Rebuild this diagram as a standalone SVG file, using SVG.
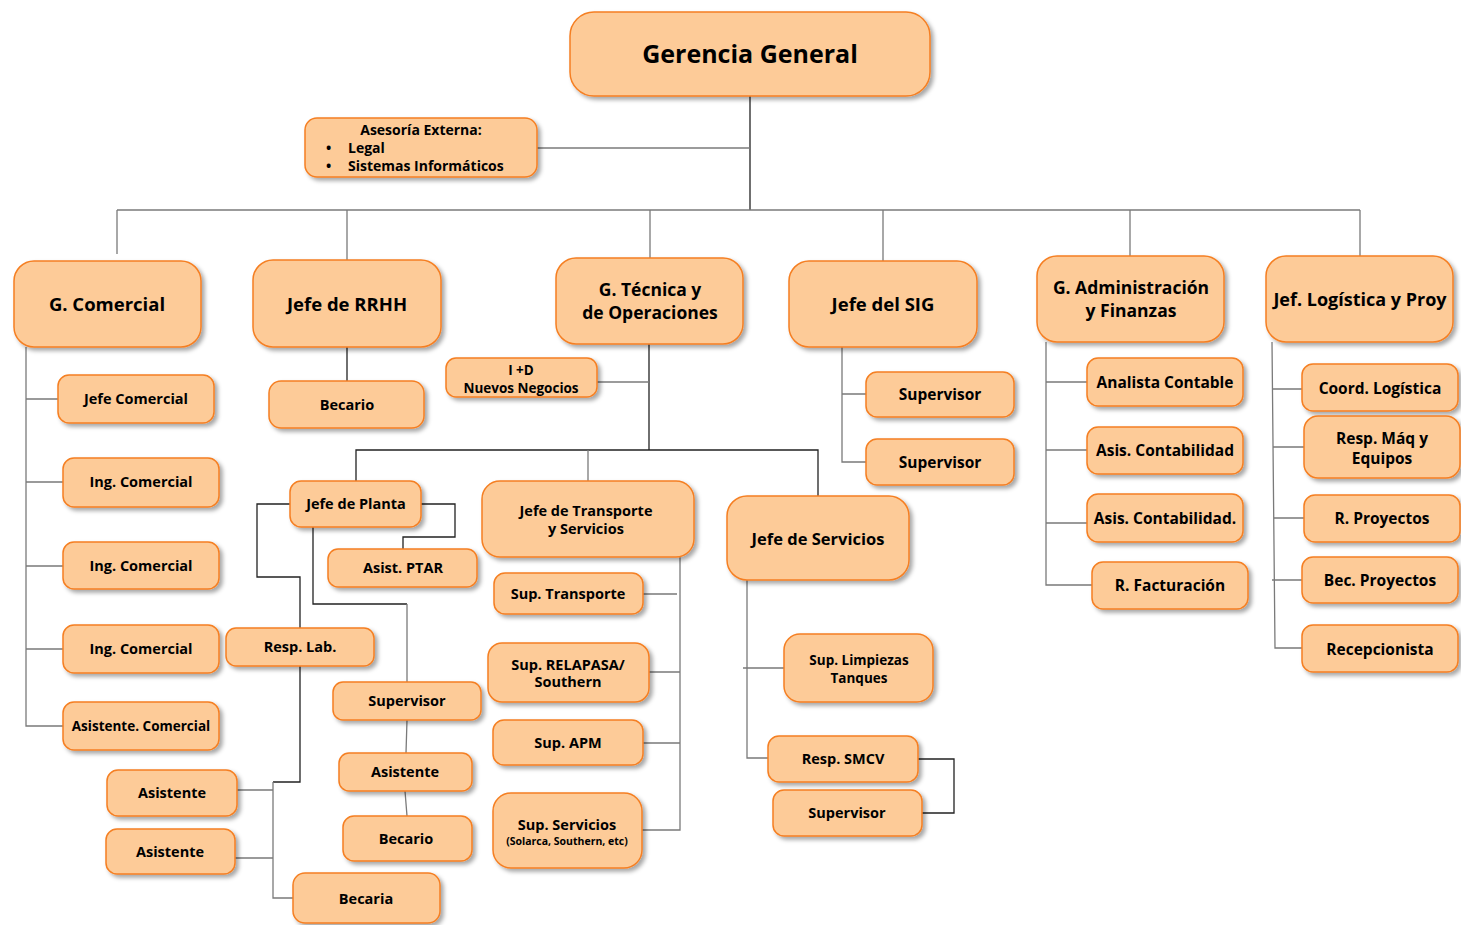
<svg xmlns="http://www.w3.org/2000/svg" width="1461" height="925" viewBox="0 0 1461 925">
  <defs>
    <filter id="shadow" x="-10%" y="-10%" width="130%" height="140%">
      <feDropShadow dx="3" dy="3" stdDeviation="2" flood-color="#000" flood-opacity="0.35"/>
    </filter>
    <style>
      .box { fill: #FDCB98; stroke: #F57F22; stroke-width: 1.5; filter: url(#shadow); }
      text { font-family: "Open Sans", "Noto Sans", "Liberation Sans", sans-serif; font-weight: 700; fill: #000; text-anchor: middle; }
      .t1 { font-size: 25px; }
      .t2 { font-size: 18.5px; }
      .t2b { font-size: 17.5px; }
      .t3 { font-size: 15.5px; }
      .t4 { font-size: 14.5px; }
      .t5 { font-size: 13.5px; }
      .dark { fill: none; stroke: #222; stroke-width: 1.3; }
      .grey { fill: none; stroke: #7a7a7a; stroke-width: 1.3; }
    </style>
  </defs>
  <rect width="1461" height="925" fill="#fff"/>

  <!-- connectors -->
  <g id="connectors">
    <path class="dark" d="M750,96 V210"/>
    <path class="grey" d="M537,148 H750"/>
    <path class="grey" d="M117,210 H1360"/>
    <path class="grey" d="M117,210 V254 M347,210 V260 M650,210 V258 M883,210 V261 M1130,210 V256 M1360,210 V256"/>
    <!-- comercial -->
    <path class="grey" d="M26,347 V726 H63 M26,399 H58 M26,482 H63 M26,566 H63 M26,649 H63"/>
    <!-- rrhh -->
    <path class="dark" d="M347,347 V381"/>
    <!-- tecnica -->
    <path class="dark" d="M649,344 V450"/>
    <path class="grey" d="M597,382 H649"/>
    <path class="dark" d="M356,481 V450 H818 V496"/>
    <path class="grey" d="M588,450 V481"/>
    <!-- planta -->
    <path class="dark" d="M421,504 H455 V537 H403 V549"/>
    <path class="dark" d="M290,504 H257 V577 H300 V628"/>
    <path class="dark" d="M300,666 V782 H273"/>
    <path class="grey" d="M273,782 V898 H293 M237,790 H273 M235,858 H273"/>
    <path class="dark" d="M313,527 V604 H407"/>
    <path class="grey" d="M407,604 V682 M407,720 L406,753 M405,791 L407,816"/>
    <!-- transporte -->
    <path class="grey" d="M680,557 V830 H642 M643,594 H677 M649,672 H680 M643,743 H680"/>
    <!-- servicios -->
    <path class="grey" d="M747,580 V758 H768 M743,668 H784"/>
    <path class="dark" d="M918,759 H954 V813 H922"/>
    <!-- sig -->
    <path class="grey" d="M842,342 V462 H866 M842,394 H866"/>
    <!-- administracion -->
    <path class="grey" d="M1046,342 V585 H1092 M1046,382 H1087 M1046,450 H1087 M1046,523 H1087"/>
    <!-- logistica -->
    <path class="grey" d="M1272,342 L1275,648 H1302 M1273,389 H1302 M1273,447 H1304 M1274,518 H1304 M1272,580 H1302"/>
  </g>

  <g id="gerencia-general"><rect class="box" x="570" y="12" width="360" height="84" rx="24"/><text class="t1" x="750" y="63">Gerencia General</text></g>

  <g id="asesoria-externa">
    <rect class="box" x="305" y="118" width="232" height="59" rx="12"/>
    <text x="421" y="135" style="font-size:14px">Asesoría Externa:</text>
    <text x="326" y="153" style="font-size:14px;text-anchor:start">•</text>
    <text x="348" y="153" style="font-size:14px;text-anchor:start">Legal</text>
    <text x="326" y="171" style="font-size:14px;text-anchor:start">•</text>
    <text x="348" y="171" style="font-size:14px;text-anchor:start">Sistemas Informáticos</text>
  </g>

  <!-- comercial -->
  <g id="g-comercial"><rect class="box" x="14" y="261" width="187" height="86" rx="20"/><text class="t2" x="107" y="311">G. Comercial</text></g>
  <g id="jefe-comercial"><rect class="box" x="58" y="375" width="156" height="48" rx="11"/><text class="t4" x="136" y="404">Jefe Comercial</text></g>
  <g id="ing-comercial-1"><rect class="box" x="63" y="458" width="156" height="49" rx="11"/><text class="t4" x="141" y="487">Ing. Comercial</text></g>
  <g id="ing-comercial-2"><rect class="box" x="63" y="542" width="156" height="47" rx="11"/><text class="t4" x="141" y="571">Ing. Comercial</text></g>
  <g id="ing-comercial-3"><rect class="box" x="63" y="625" width="156" height="48" rx="11"/><text class="t4" x="141" y="654">Ing. Comercial</text></g>
  <g id="asistente-comercial"><rect class="box" x="63" y="702" width="156" height="48" rx="11"/><text class="t5" x="141" y="731">Asistente. Comercial</text></g>

  <!-- rrhh -->
  <g id="jefe-rrhh"><rect class="box" x="253" y="260" width="188" height="87" rx="20"/><text class="t2" x="347" y="311">Jefe de RRHH</text></g>
  <g id="becario-rrhh"><rect class="box" x="269" y="381" width="155" height="47" rx="12"/><text class="t4" x="347" y="410">Becario</text></g>

  <!-- tecnica y operaciones -->
  <g id="g-tecnica"><rect class="box" x="556" y="258" width="187" height="86" rx="20"/><text class="t2b" x="650" y="296">G. Técnica y</text><text class="t2b" x="650" y="319">de Operaciones</text></g>
  <g id="i-d"><rect class="box" x="446" y="358" width="151" height="39" rx="10"/><text class="t5" x="521" y="375">I +D</text><text class="t5" x="521" y="393">Nuevos Negocios</text></g>

  <g id="jefe-planta"><rect class="box" x="290" y="481" width="131" height="46" rx="11"/><text class="t4" x="356" y="509">Jefe de Planta</text></g>
  <g id="asist-ptar"><rect class="box" x="328" y="549" width="149" height="38" rx="10"/><text class="t4" x="403" y="573">Asist. PTAR</text></g>
  <g id="resp-lab"><rect class="box" x="226" y="628" width="148" height="38" rx="10"/><text class="t4" x="300" y="652">Resp. Lab.</text></g>
  <g id="supervisor-planta"><rect class="box" x="333" y="682" width="148" height="38" rx="10"/><text class="t4" x="407" y="706">Supervisor</text></g>
  <g id="asistente-planta"><rect class="box" x="339" y="753" width="133" height="38" rx="10"/><text class="t4" x="405" y="777">Asistente</text></g>
  <g id="becario-planta"><rect class="box" x="343" y="816" width="129" height="45" rx="11"/><text class="t4" x="406" y="844">Becario</text></g>
  <g id="becaria"><rect class="box" x="293" y="873" width="147" height="50" rx="12"/><text class="t4" x="366" y="904">Becaria</text></g>
  <g id="asistente-1"><rect class="box" x="107" y="770" width="130" height="46" rx="11"/><text class="t4" x="172" y="798">Asistente</text></g>
  <g id="asistente-2"><rect class="box" x="106" y="829" width="129" height="45" rx="11"/><text class="t4" x="170" y="857">Asistente</text></g>

  <g id="jefe-transporte"><rect class="box" x="482" y="481" width="212" height="76" rx="18"/><text class="t4" x="586" y="516">Jefe de Transporte</text><text class="t4" x="586" y="534">y Servicios</text></g>
  <g id="sup-transporte"><rect class="box" x="494" y="573" width="149" height="41" rx="11"/><text class="t4" x="568" y="599">Sup. Transporte</text></g>
  <g id="sup-relapasa"><rect class="box" x="488" y="643" width="161" height="59" rx="14"/><text class="t4" x="568" y="670">Sup. RELAPASA/</text><text class="t4" x="568" y="687">Southern</text></g>
  <g id="sup-apm"><rect class="box" x="493" y="720" width="150" height="45" rx="11"/><text class="t4" x="568" y="748">Sup. APM</text></g>
  <g id="sup-servicios"><rect class="box" x="493" y="793" width="149" height="75" rx="18"/><text class="t4" x="567" y="830">Sup. Servicios</text><text x="567" y="845" style="font-size:10.5px">(Solarca, Southern, etc)</text></g>

  <g id="jefe-servicios"><rect class="box" x="727" y="496" width="182" height="84" rx="20"/><text x="818" y="545" style="font-size:16.5px">Jefe de Servicios</text></g>
  <g id="sup-limpiezas"><rect class="box" x="784" y="634" width="149" height="68" rx="16"/><text class="t5" x="859" y="665">Sup. Limpiezas</text><text class="t5" x="859" y="683">Tanques</text></g>
  <g id="resp-smcv"><rect class="box" x="768" y="736" width="150" height="46" rx="11"/><text class="t4" x="843" y="764">Resp. SMCV</text></g>
  <g id="supervisor-smcv"><rect class="box" x="773" y="790" width="149" height="46" rx="11"/><text class="t4" x="847" y="818">Supervisor</text></g>

  <!-- sig -->
  <g id="jefe-sig"><rect class="box" x="789" y="261" width="188" height="86" rx="20"/><text class="t2" x="883" y="311">Jefe del SIG</text></g>
  <g id="supervisor-sig-1"><rect class="box" x="866" y="372" width="148" height="45" rx="11"/><text class="t3" x="940" y="400">Supervisor</text></g>
  <g id="supervisor-sig-2"><rect class="box" x="866" y="439" width="148" height="46" rx="11"/><text class="t3" x="940" y="468">Supervisor</text></g>

  <!-- administracion y finanzas -->
  <g id="g-administracion"><rect class="box" x="1037" y="256" width="187" height="86" rx="20"/><text class="t2b" x="1131" y="294">G. Administración</text><text class="t2b" x="1131" y="317">y Finanzas</text></g>
  <g id="analista-contable"><rect class="box" x="1087" y="358" width="156" height="48" rx="11"/><text class="t3" x="1165" y="388">Analista Contable</text></g>
  <g id="asis-contabilidad-1"><rect class="box" x="1087" y="427" width="156" height="47" rx="11"/><text class="t3" x="1165" y="456">Asis. Contabilidad</text></g>
  <g id="asis-contabilidad-2"><rect class="box" x="1087" y="494" width="156" height="48" rx="11"/><text class="t3" x="1165" y="524">Asis. Contabilidad.</text></g>
  <g id="r-facturacion"><rect class="box" x="1092" y="562" width="156" height="47" rx="11"/><text class="t3" x="1170" y="591">R. Facturación</text></g>

  <!-- logistica y proyectos -->
  <g id="jef-logistica"><rect class="box" x="1266" y="256" width="187" height="86" rx="20"/><text x="1360" y="306" style="font-size:18px">Jef. Logística y Proy</text></g>
  <g id="coord-logistica"><rect class="box" x="1302" y="364" width="156" height="47" rx="11"/><text class="t3" x="1380" y="394">Coord. Logística</text></g>
  <g id="resp-maq"><rect class="box" x="1304" y="416" width="156" height="62" rx="14"/><text class="t3" x="1382" y="444">Resp. Máq y</text><text class="t3" x="1382" y="464">Equipos</text></g>
  <g id="r-proyectos"><rect class="box" x="1304" y="495" width="156" height="47" rx="11"/><text class="t3" x="1382" y="524">R. Proyectos</text></g>
  <g id="bec-proyectos"><rect class="box" x="1302" y="557" width="156" height="46" rx="11"/><text class="t3" x="1380" y="586">Bec. Proyectos</text></g>
  <g id="recepcionista"><rect class="box" x="1302" y="625" width="156" height="47" rx="11"/><text class="t3" x="1380" y="655">Recepcionista</text></g>
</svg>
